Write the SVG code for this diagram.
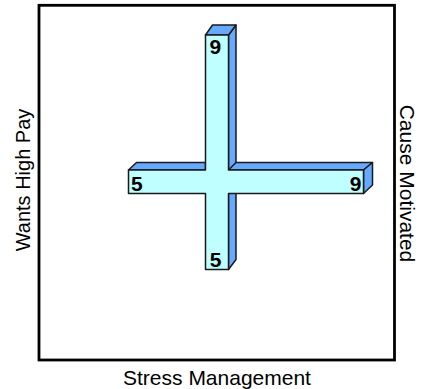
<svg xmlns="http://www.w3.org/2000/svg" width="428" height="389" viewBox="0 0 428 389">
<style>
.side{fill:#66aaff;stroke:#1a1a1a;stroke-width:1.5;stroke-linejoin:round}
.front{fill:#c0ffff;stroke:#1a1a1a;stroke-width:1.5;stroke-linejoin:round}
.val{font-family:"Liberation Sans",Arial,sans-serif;font-weight:bold;font-size:21px;fill:#000}
.lab{font-family:"Liberation Sans",Arial,sans-serif;font-size:20px;fill:#000}
</style>
<rect x="0" y="0" width="428" height="389" fill="#fff"/>
<g id="frame">
<rect x="39" y="5.3" width="355.5" height="354.7" fill="none" stroke="#000" stroke-width="2.8"/>
</g>
<g id="cross">
<polygon class="side" points="228.5,35 236,25 236,259.5 228.5,269.5"/>
<polygon class="side" points="205.5,35 212.5,25 236,25 228.5,35"/>
<polygon class="side" points="128.5,170 136.5,162.5 205.5,162.5 205.5,170"/>
<polygon class="side" points="228.5,170 236,162.5 372.5,162.5 363.5,170"/>
<polygon class="side" points="363.5,170 372.5,162.5 372.5,185 363.5,193.5"/>
<polygon class="front" points="205.5,35 228.5,35 228.5,170 363.5,170 363.5,193.5 228.5,193.5 228.5,269.5 205.5,269.5 205.5,193.5 128.5,193.5 128.5,170 205.5,170"/>
</g>
<g id="values">
<text class="val" x="209.5" y="53.5">9</text>
<text class="val" x="131" y="191">5</text>
<text class="val" x="361.5" y="190.8" text-anchor="end">9</text>
<text class="val" x="209.8" y="266.8">5</text>
</g>
<g id="labels">
<text class="lab" transform="translate(29.5,180) rotate(-90)" text-anchor="middle">Wants High Pay</text>
<text class="lab" style="font-size:21px" transform="translate(400,183.5) rotate(90)" text-anchor="middle">Cause Motivated</text>
<text class="lab" style="font-size:21px" x="217" y="385" text-anchor="middle">Stress Management</text>
</g>
</svg>
